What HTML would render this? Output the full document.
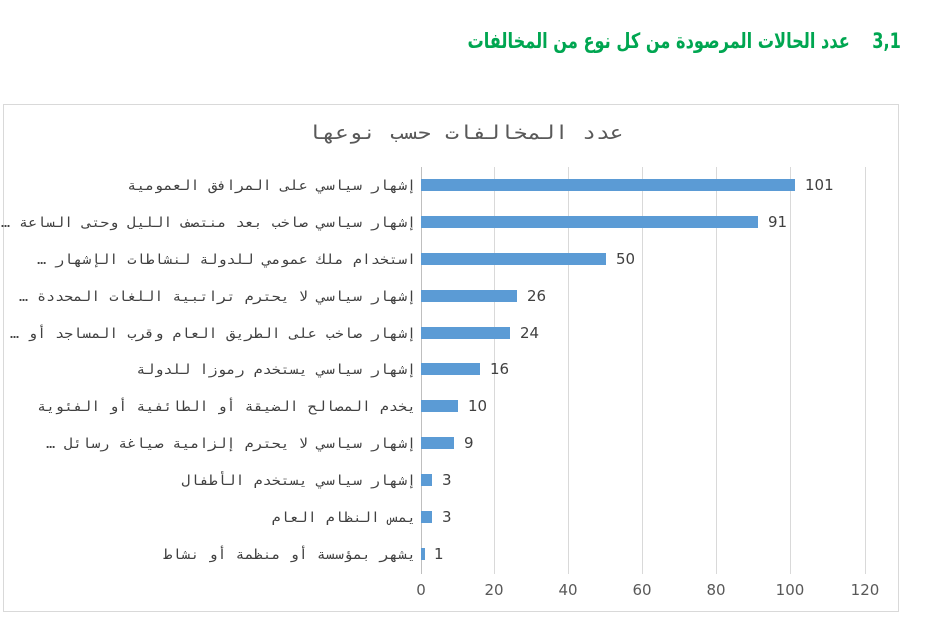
<!DOCTYPE html>
<html><head><meta charset="utf-8"><style>
body{margin:0;width:931px;height:637px;background:#fff;position:relative;overflow:hidden;font-family:"DejaVu Sans Mono","Liberation Mono",monospace}
.h{position:absolute;right:30px;top:29px;color:#00a651;font:bold 21px "DejaVu Sans","Liberation Sans",sans-serif;direction:rtl;white-space:nowrap;transform:scaleX(0.77);transform-origin:right center}
.box{position:absolute;left:3px;top:104px;width:894px;height:506px;border:1px solid #d9d9d9}
.t{position:absolute;left:0;width:931px;top:122px;text-align:center;font-size:19px;letter-spacing:3px;color:#595959;direction:rtl;transform:scaleX(1.2);transform-origin:465px center}
.g{position:absolute;top:167px;height:407px;width:1px;background:#d9d9d9}
.b{position:absolute;height:12px;background:#5b9bd5;left:421px}
.l{position:absolute;right:515px;width:420px;text-align:right;direction:rtl;font-size:13.5px;letter-spacing:1.2px;color:#404040;white-space:nowrap;transform:scaleX(1.11);transform-origin:right center}
.v{position:absolute;font:15px "DejaVu Sans","Liberation Sans",sans-serif;color:#404040}
.x{position:absolute;top:581px;font:15px "DejaVu Sans","Liberation Sans",sans-serif;color:#595959;width:40px;text-align:center}
</style></head><body>
<div class="h">3,1&nbsp;&nbsp;&nbsp; عدد الحالات المرصودة من كل نوع من المخالفات</div>
<div class="box"></div>
<div class="t">عدد المخالفات حسب نوعها</div>
<div class="g" style="left:421px;background:#bfbfbf"></div>
<div class="g" style="left:494px"></div><div class="g" style="left:568px"></div><div class="g" style="left:642px"></div><div class="g" style="left:716px"></div><div class="g" style="left:790px"></div><div class="g" style="left:865px"></div>
<div class="b" style="top:179px;width:374px"></div><div class="v" style="left:805px;top:176px">101</div><div class="l" style="top:178px">إشهار سياسي على المرافق العمومية</div>
<div class="b" style="top:216px;width:337px"></div><div class="v" style="left:768px;top:213px">91</div><div class="l" style="top:215px">إشهار سياسي صاخب بعد منتصف الليل وحتى الساعة …</div>
<div class="b" style="top:253px;width:185px"></div><div class="v" style="left:616px;top:250px">50</div><div class="l" style="top:252px">استخدام ملك عمومي للدولة لنشاطات الإشهار …</div>
<div class="b" style="top:290px;width:96px"></div><div class="v" style="left:527px;top:287px">26</div><div class="l" style="top:289px">إشهار سياسي لا يحترم تراتبية اللغات المحددة …</div>
<div class="b" style="top:327px;width:89px"></div><div class="v" style="left:520px;top:324px">24</div><div class="l" style="top:326px">إشهار صاخب على الطريق العام وقرب المساجد أو …</div>
<div class="b" style="top:363px;width:59px"></div><div class="v" style="left:490px;top:360px">16</div><div class="l" style="top:362px">إشهار سياسي يستخدم رموزا للدولة</div>
<div class="b" style="top:400px;width:37px"></div><div class="v" style="left:468px;top:397px">10</div><div class="l" style="top:399px">يخدم المصالح الضيقة أو الطائفية أو الفئوية</div>
<div class="b" style="top:437px;width:33px"></div><div class="v" style="left:464px;top:434px">9</div><div class="l" style="top:436px">إشهار سياسي لا يحترم إلزامية صياغة رسائل …</div>
<div class="b" style="top:474px;width:11px"></div><div class="v" style="left:442px;top:471px">3</div><div class="l" style="top:473px">إشهار سياسي يستخدم الأطفال</div>
<div class="b" style="top:511px;width:11px"></div><div class="v" style="left:442px;top:508px">3</div><div class="l" style="top:510px">يمس النظام العام</div>
<div class="b" style="top:548px;width:4px"></div><div class="v" style="left:434px;top:545px">1</div><div class="l" style="top:547px">يشهر بمؤسسة أو منظمة أو نشاط</div>
<div class="x" style="left:401px">0</div><div class="x" style="left:474px">20</div><div class="x" style="left:548px">40</div><div class="x" style="left:622px">60</div><div class="x" style="left:696px">80</div><div class="x" style="left:770px">100</div><div class="x" style="left:845px">120</div>
</body></html>
